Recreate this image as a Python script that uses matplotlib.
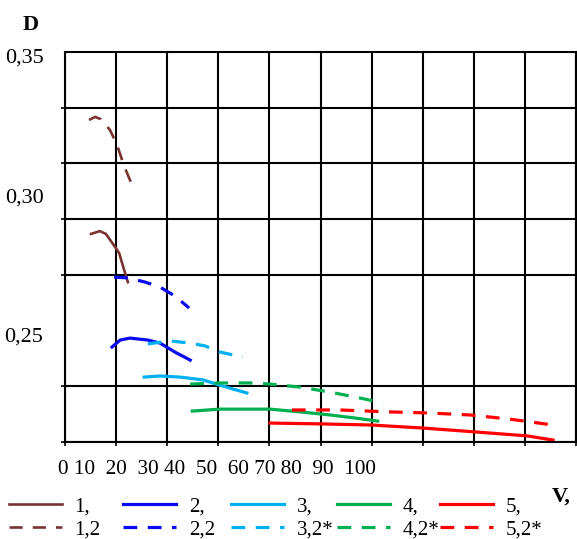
import numpy as np
import matplotlib
matplotlib.use('Agg')
import matplotlib.pyplot as plt
from matplotlib.transforms import ScaledTranslation

plt.rcParams['font.family'] = ['Liberation Serif', 'DejaVu Serif']

# curves (V, D)
v1 = [5.1, 6.8, 8.0, 9.8, 10.6, 11.4, 12.3]
d1 = [0.2847, 0.2857, 0.2847, 0.2800, 0.2778, 0.2728, 0.2674]
v1_2 = [4.7, 5.9, 7.0, 8.8, 10.2, 11.5, 12.7, 13.7]
d1_2 = [0.3256, 0.3267, 0.3259, 0.3220, 0.3166, 0.3094, 0.3041, 0.3005]

v2 = [9.2, 10.8, 12.7, 16.2, 18.6, 21.5, 24.5]
d2 = [0.2441, 0.2466, 0.2473, 0.2466, 0.2455, 0.2423, 0.2394]
v2_2 = [9.6, 12.3, 15.7, 18.6, 21.5, 24.3]
d2_2 = [0.2692, 0.2689, 0.2674, 0.2656, 0.2624, 0.2581]

v3 = [15.5, 18.6, 22.5, 27.0, 30.1, 32.9, 35.6]
d3 = [0.2333, 0.2337, 0.2333, 0.2323, 0.2305, 0.2290, 0.2276]
v3_2 = [16.2, 20.5, 24.5, 27.4, 30.3, 34.8]
d3_2 = [0.2452, 0.2463, 0.2455, 0.2445, 0.2423, 0.2405]

v4 = [24.9, 30.3, 36.2, 40.1, 46.0, 51.9, 56.8, 61.2]
d4 = [0.2211, 0.2218, 0.2218, 0.2218, 0.2208, 0.2197, 0.2186, 0.2175]
v4_2 = [24.5, 30.3, 36.2, 40.1, 46.0, 51.9, 57.7, 62.2]
d4_2 = [0.2308, 0.2312, 0.2312, 0.2308, 0.2297, 0.2279, 0.2258, 0.2240]

v5 = [40.1, 49.9, 59.9, 70.1, 80.4, 90.4, 95.5]
d5 = [0.2168, 0.2165, 0.2161, 0.2150, 0.2136, 0.2122, 0.2107]
v5_2 = [44.4, 53.8, 63.6, 71.4, 79.3, 87.1, 95.5]
d5_2 = [0.2215, 0.2215, 0.2208, 0.2204, 0.2197, 0.2182, 0.2161]

x_labels = '0 10  20  30 40  50  60 70 80  90  100'
y_labels = [0.35, 0.30, 0.25]

brown = '#7a3232'
blue = '#0a0af0'
lblue = '#00b0f0'
green = '#00b050'
red = '#ff0000'

fig = plt.figure(figsize=(5.77, 5.39), dpi=100)
ax = fig.add_axes([65 / 577, 1 - 442 / 539, 511 / 577, 390 / 539])

dash = (4.3, 3.3)
h = {}
h['1'], = ax.plot(v1, d1, color=brown, lw=1.9)
h['1.2'], = ax.plot(v1_2, d1_2, color=brown, lw=1.9, dashes=(5.0, 3.8))
h['2'], = ax.plot(v2, d2, color=blue, lw=2.3)
h['2.2'], = ax.plot(v2_2, d2_2, color=blue, lw=2.3, dashes=dash)
h['3'], = ax.plot(v3, d3, color=lblue, lw=2.3)
h['3.2'], = ax.plot(v3_2, d3_2, color=lblue, lw=2.3, dashes=dash)
h['4'], = ax.plot(v4, d4, color=green, lw=2.3)
h['4.2'], = ax.plot(v4_2, d4_2, color=green, lw=2.3, dashes=dash)
h['5'], = ax.plot(v5, d5, color=red, lw=2.3)
h['5.2'], = ax.plot(v5_2, d5_2, color=red, lw=2.3, dashes=dash)

ax.set_xlim(0, 100)
ax.set_ylim(0.21, 0.35)

# grid every 10 in V and 0.02 in D
ax.set_xticks(np.arange(0, 101, 10), minor=True)
ax.set_xticks([])
ax.set_yticks(np.arange(0.21, 0.351, 0.02), minor=True)
ax.set_yticks(y_labels)
ax.set_yticklabels([('%.2f' % v).replace('.', ',') for v in y_labels])
ax.grid(which='minor', color='black', lw=1.5)
ax.tick_params(which='minor', length=3, width=1.2, color='black')
ax.tick_params(which='major', length=0, pad=15.5, labelsize=16)
for lab in ax.get_yticklabels():
    lab.set_transform(lab.get_transform() + ScaledTranslation(0, -4 / 100, fig.dpi_scale_trans))
for s in ax.spines.values():
    s.set_linewidth(1.5)
ax.set_axisbelow(True)

fig.text(58 / 577, 1 - 469 / 539, x_labels, ha='left', va='center', fontsize=15.3)
fig.text(31 / 577, 1 - 25 / 539, 'D', ha='center', va='center', fontsize=16, fontweight='bold')
fig.text(552 / 577, 1 - 497 / 539, 'V,', ha='left', va='center', fontsize=16, fontweight='bold')

cols = [(9, '1', '1.2', '1,', '1,2'), (123, '2', '2.2', '2,', '2,2'),
        (231, '3', '3.2', '3,', '3,2*'), (337, '4', '4.2', '4,', '4,2*'),
        (440, '5', '5.2', '5,', '5,2*')]
for x0, a, b, la, lb in cols:
    fig.legend([h[a], h[b]], [la, lb], loc='center left',
               bbox_to_anchor=(x0 / 577, 1 - 518 / 539), frameon=False,
               fontsize=15, handlelength=2.55, handletextpad=0.6,
               borderpad=0, borderaxespad=0, labelspacing=0.15)

fig.savefig('out.png', dpi=100)
